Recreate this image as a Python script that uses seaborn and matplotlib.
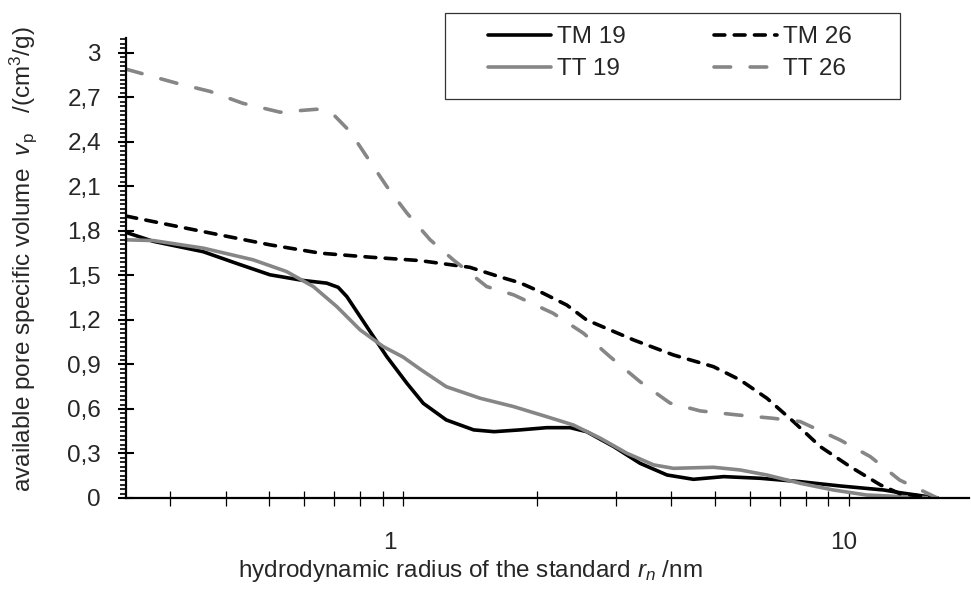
import numpy as np
import pandas as pd
import matplotlib
matplotlib.use('Agg')
import matplotlib.pyplot as plt
import matplotlib.ticker as mticker
from matplotlib.patches import Rectangle
from matplotlib.transforms import ScaledTranslation
import seaborn as sns

# hydrodynamic radius r_n (nm) vs available pore volume v_p (cm3/g)
tm19_r = [0.239, 0.275, 0.356, 0.424, 0.503, 0.597, 0.674, 0.715, 0.748, 0.829, 0.919, 1.02, 1.11,
          1.25, 1.44, 1.60, 1.83, 2.10, 2.37, 2.58, 2.97, 3.40, 3.91, 4.48, 5.24, 6.32, 7.78,
          9.57, 11.97, 13.0, 15.8]
tm19_v = [1.79, 1.73, 1.66, 1.58, 1.504, 1.466, 1.448, 1.42, 1.357, 1.155, 0.953, 0.773, 0.638,
          0.526, 0.459, 0.447, 0.459, 0.474, 0.474, 0.447, 0.346, 0.234, 0.155, 0.126, 0.144,
          0.133, 0.11, 0.081, 0.054, 0.036, 0.0]

tt19_r = [0.239, 0.275, 0.356, 0.461, 0.548, 0.629, 0.71, 0.801, 0.903, 1.0, 1.09, 1.25, 1.49,
          1.77, 2.10, 2.41, 2.77, 3.18, 3.65, 4.04, 4.97, 5.70, 6.55, 7.78, 9.23, 10.97, 13.0, 15.8]
tt19_v = [1.74, 1.735, 1.684, 1.605, 1.526, 1.425, 1.29, 1.133, 1.02, 0.95, 0.87, 0.75, 0.672,
          0.616, 0.548, 0.492, 0.403, 0.301, 0.223, 0.20, 0.207, 0.189, 0.155, 0.099, 0.054,
          0.02, 0.01, 0.0]

tm26_r = [0.239, 0.30, 0.388, 0.503, 0.652, 0.843, 1.09, 1.41, 1.65, 1.83, 2.03, 2.33, 2.58,
          3.29, 4.04, 4.97, 5.70, 6.55, 7.51, 8.63, 10.07, 11.77, 13.0, 15.8]
tm26_v = [1.90, 1.84, 1.773, 1.706, 1.65, 1.623, 1.60, 1.555, 1.49, 1.45, 1.39, 1.30, 1.20,
          1.065, 0.964, 0.885, 0.796, 0.672, 0.515, 0.346, 0.211, 0.088, 0.03, 0.0]

tt26_r = [0.239, 0.31, 0.369, 0.437, 0.53, 0.64, 0.70, 0.76, 0.829, 0.919, 1.02, 1.15, 1.296,
          1.54, 1.77, 2.17, 2.54, 2.91, 3.40, 3.97, 4.64, 5.61, 6.77, 7.78, 9.57, 11.17, 13.0, 15.8]
tt26_v = [2.89, 2.796, 2.74, 2.66, 2.60, 2.62, 2.58, 2.47, 2.30, 2.10, 1.92, 1.74, 1.605,
          1.425, 1.369, 1.245, 1.11, 0.953, 0.784, 0.64, 0.587, 0.56, 0.537, 0.515, 0.39,
          0.279, 0.121, 0.0]

series = ['TM 19', 'TT 19', 'TM 26', 'TT 26']
colors = {'TM 19': 'black', 'TT 19': '#868686', 'TM 26': 'black', 'TT 26': '#868686'}
dashes = {'TM 19': '', 'TT 19': '', 'TM 26': (3.0, 2.6), 'TT 26': (4.6, 5.4)}

df = pd.concat([
    pd.DataFrame({'r': tm19_r, 'v': tm19_v, 'series': 'TM 19'}),
    pd.DataFrame({'r': tm26_r, 'v': tm26_v, 'series': 'TM 26'}),
    pd.DataFrame({'r': tt19_r, 'v': tt19_v, 'series': 'TT 19'}),
    pd.DataFrame({'r': tt26_r, 'v': tt26_v, 'series': 'TT 26'}),
], ignore_index=True)

sns.set_style('ticks')
plt.rcParams['font.family'] = ['Liberation Sans', 'DejaVu Sans']
plt.rcParams['mathtext.fontset'] = 'custom'
plt.rcParams['mathtext.rm'] = 'Liberation Sans'
plt.rcParams['mathtext.it'] = 'Liberation Sans:italic'
plt.rcParams['lines.dash_capstyle'] = 'round'
plt.rcParams['lines.solid_capstyle'] = 'round'
fs = 17.5

fig = plt.figure(figsize=(9.71, 5.89), dpi=100)
ax = fig.add_axes([126 / 971, 1 - 498 / 589, (969 - 126) / 971, (498 - 38) / 589])

sns.lineplot(data=df, x='r', y='v', hue='series', style='series', hue_order=series,
             style_order=series, palette=colors, dashes=dashes, lw=2.6, estimator=None,
             sort=False, ax=ax)

ax.set_xscale('log')
ax.set_xlim(0.239, 18.6)
ax.set_ylim(0, 3.1)

# axes ticks
ax.xaxis.set_major_locator(mticker.FixedLocator([1, 10]))
ax.xaxis.set_minor_locator(mticker.FixedLocator([0.3, 0.4, 0.5, 0.6, 0.7, 0.8, 0.9,
                                                 2, 3, 4, 5, 6, 7, 8, 9]))
ax.xaxis.set_major_formatter(mticker.FuncFormatter(lambda v, p: f'{v:g}'))
ax.xaxis.set_minor_formatter(mticker.NullFormatter())
ax.set_yticks(np.arange(0, 3.01, 0.3))
ax.yaxis.set_minor_locator(mticker.MultipleLocator(0.03))
ax.yaxis.set_major_formatter(mticker.FuncFormatter(lambda v, p: f'{round(v, 1):g}'.replace('.', ',')))

ax.tick_params(axis='x', which='both', direction='inout', length=10.8, width=0.9,
               color='black', labelsize=fs)
ax.tick_params(axis='x', which='major', pad=19.4)
ax.tick_params(axis='y', which='major', direction='inout', length=12.2, width=1.5,
               pad=11.9, color='black', labelsize=fs)
ax.tick_params(axis='y', which='minor', direction='out', length=4.3, width=1.2, color='black')

sns.despine(ax=ax)
for s in ['left', 'bottom']:
    ax.spines[s].set_linewidth(1.6)
    ax.spines[s].set_color('black')

# Excel puts the decade labels a bit left of the tick
for lab, dx in zip(ax.get_xticklabels(), [-13, -5]):
    lab.set_transform(lab.get_transform() + ScaledTranslation(dx / 100, 0, fig.dpi_scale_trans))

ax.set_xlabel('hydrodynamic radius of the standard $r_n$ /nm', fontsize=fs)
ax.xaxis.set_label_coords(0.408, -0.1304)
ax.set_ylabel('available pore specific volume  $v_\\mathrm{p}$   /(cm$^3$/g)', fontsize=fs)
ax.yaxis.set_label_coords(-0.103, 0.52)

handles, labels = ax.get_legend_handles_labels()
ax.get_legend().remove()
ax.legend(handles, labels, ncol=2, loc='upper left', bbox_to_anchor=(488 / 971, 1 - 26 / 589),
          bbox_transform=fig.transFigure, frameon=False, fontsize=fs, handlelength=2.6,
          handletextpad=0.25, columnspacing=3.6, labelspacing=0.42, borderpad=0,
          borderaxespad=0)
fig.add_artist(Rectangle((445 / 971, 1 - 99 / 589), 455 / 971, 86 / 589,
                         transform=fig.transFigure, fill=False, edgecolor='#333333', lw=0.9))

fig.savefig('out.png', dpi=100)
